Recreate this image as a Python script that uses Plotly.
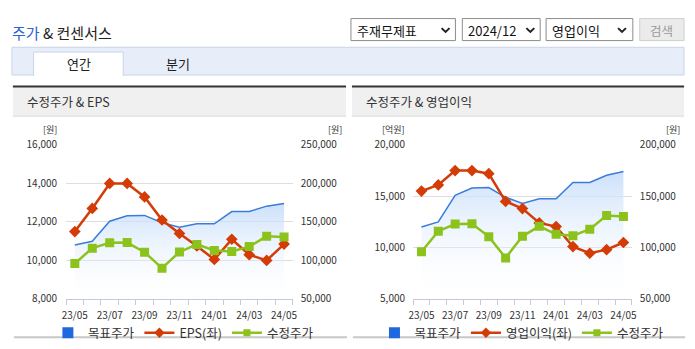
import plotly.graph_objects as go

# ---------------- data ----------------
months = ["23/05", "23/06", "23/07", "23/08", "23/09", "23/10", "23/11",
          "23/12", "24/01", "24/02", "24/03", "24/04", "24/05"]
tick_labels = ["23/05", "23/07", "23/09", "23/11", "24/01", "24/03", "24/05"]
target_price = [120000, 125000, 151000, 158000, 158500, 149000, 143000,
                147500, 147500, 163500, 163500, 170500, 174000]
adj_price = [96000, 116000, 123000, 123200, 110700, 90000, 111000,
             120800, 113000, 111600, 118000, 131300, 130300]
eps = [11500, 12700, 14000, 14000, 13300, 12100, 11400,
       10750, 10050, 11100, 10300, 10000, 10850]
op_profit = [15500, 16100, 17500, 17500, 17200, 14500, 13800,
             12400, 12050, 10100, 9450, 9800, 10500]

W, H = 695, 349
FONT = "Noto Sans CJK KR"
BLUE_LINE = "#3b7bdc"
BLUE_SQ = "#1f69df"
RED = "#d33c06"
GREEN = "#8cc21c"

idx = list(range(len(months)))
tickvals = [months.index(t) for t in tick_labels]


def px(x):
    return x / W


def py(y):
    return 1 - y / H


fig = go.Figure()

fill_grad = dict(type="vertical",
                 colorscale=[[0, "rgba(255,255,255,0)"], [1, "rgba(196,220,250,0.85)"]])


def add_chart(xa, ya_main, ya_left, ya_top, left_vals, left_name, legend_id, main_lo):
    # area: target price
    fig.add_trace(go.Scatter(
        x=idx, y=target_price, xaxis=xa, yaxis=ya_main, mode="lines",
        line=dict(color=BLUE_LINE, width=1.5), fill="tozeroy",
        fillgradient=dict(fill_grad, start=main_lo, stop=max(target_price)),
        showlegend=False, hoverinfo="skip"))
    # left-axis series
    fig.add_trace(go.Scatter(
        x=idx, y=left_vals, xaxis=xa, yaxis=ya_left, mode="lines+markers",
        line=dict(color=RED, width=2.5),
        marker=dict(symbol="diamond", size=9, color=RED),
        showlegend=False))
    # adjusted price
    fig.add_trace(go.Scatter(
        x=idx, y=adj_price, xaxis=xa, yaxis=ya_top, mode="lines+markers",
        line=dict(color=GREEN, width=2.5),
        marker=dict(symbol="square", size=9, color=GREEN),
        showlegend=False))
    # legend entries (small symbols as in the reference legend)
    fig.add_trace(go.Scatter(
        x=[None], y=[None], xaxis=xa, yaxis=ya_main, mode="markers",
        marker=dict(symbol="square", size=11, color=BLUE_SQ),
        name="목표주가", legend=legend_id, legendrank=1))
    fig.add_trace(go.Scatter(
        x=[None], y=[None], xaxis=xa, yaxis=ya_left, mode="lines+markers",
        line=dict(color=RED, width=2.5),
        marker=dict(symbol="diamond", size=8, color=RED),
        name=left_name, legend=legend_id, legendrank=2))
    fig.add_trace(go.Scatter(
        x=[None], y=[None], xaxis=xa, yaxis=ya_top, mode="lines+markers",
        line=dict(color=GREEN, width=2.5),
        marker=dict(symbol="square", size=7, color=GREEN),
        name="수정주가", legend=legend_id, legendrank=3))


add_chart("x", "y", "y2", "y3", eps, "EPS(좌)", "legend", 50000)
add_chart("x2", "y4", "y5", "y6", op_profit, "영업이익(좌)", "legend2", 50000)

tickfont = dict(family=FONT, size=10, color="#333")

xcommon = dict(range=[-0.5, len(months) - 0.5], tickmode="array", tickvals=tickvals,
               ticktext=tick_labels, ticks="", showgrid=False, zeroline=False,
               showline=True, linecolor="#c3cbd8", linewidth=1, tickfont=tickfont,
               ticklabelstandoff=7, fixedrange=True,
               minor=dict(ticks="outside", tick0=-0.5, dtick=1, ticklen=5,
                          tickcolor="#c3cbd8", showgrid=False))

L_DOM = [px(62), px(292)]
R_DOM = [px(414), px(636)]
Y_DOM = [py(303), py(142)]

legend_common = dict(orientation="h", yanchor="top", y=py(323),
                     xanchor="center", font=dict(family=FONT, size=12.5, color="#333"),
                     bgcolor="rgba(0,0,0,0)", itemwidth=30, traceorder="normal")

fig.update_layout(
    width=W, height=H, margin=dict(l=0, r=0, t=0, b=0),
    paper_bgcolor="white", plot_bgcolor="rgba(0,0,0,0)",
    font=dict(family=FONT, color="#333"),
    xaxis=dict(xcommon, domain=L_DOM, anchor="y"),
    xaxis2=dict(xcommon, domain=R_DOM, anchor="y4"),
    yaxis=dict(domain=Y_DOM, anchor="x", side="right", range=[50000, 250000],
               tickmode="linear", tick0=50000, dtick=50000, tickformat=",",
               showgrid=True, gridcolor="#dedede", zeroline=False, ticks="",
               tickfont=tickfont, ticklabelstandoff=7, fixedrange=True),
    yaxis2=dict(overlaying="y", anchor="x", side="left", range=[8000, 16000],
                tickmode="linear", tick0=8000, dtick=2000, tickformat=",",
                showgrid=False, zeroline=False, ticks="", tickfont=tickfont,
                ticklabelstandoff=8, fixedrange=True),
    yaxis3=dict(overlaying="y", anchor="x", range=[50000, 250000], visible=False,
                fixedrange=True),
    yaxis4=dict(domain=Y_DOM, anchor="x2", side="right", range=[50000, 200000],
                tickmode="linear", tick0=50000, dtick=50000, tickformat=",",
                showgrid=True, gridcolor="#dedede", zeroline=False, ticks="",
                tickfont=tickfont, ticklabelstandoff=7, fixedrange=True),
    yaxis5=dict(overlaying="y4", anchor="x2", side="left", range=[5000, 20000],
                tickmode="linear", tick0=5000, dtick=5000, tickformat=",",
                showgrid=False, zeroline=False, ticks="", tickfont=tickfont,
                ticklabelstandoff=7, fixedrange=True),
    yaxis6=dict(overlaying="y4", anchor="x2", range=[50000, 200000], visible=False,
                fixedrange=True),
    legend=dict(legend_common, x=px(181)),
    legend2=dict(legend_common, x=px(524)),
    hovermode=False,
)

shapes = []
annots = []


def rect(x0, y0, x1, y1, fill, line=None, lw=1):
    shapes.append(dict(type="rect", xref="paper", yref="paper", layer="below",
                       x0=px(x0), x1=px(x1), y0=py(y1), y1=py(y0),
                       fillcolor=fill, line=dict(color=line or fill, width=lw if line else 0)))


def text(x, y, s, size=12, color="#222", anchor="left", pad=1):
    annots.append(dict(xref="paper", yref="paper", x=px(x), y=py(y), text=s,
                       showarrow=False, xanchor=anchor, yanchor="middle", borderpad=pad,
                       font=dict(family=FONT, size=size, color=color)))


# title
text(5, 25, "<span style='color:#2c62d2'>주가</span> & 컨센서스", size=15, color="#222")

# dropdowns
for (x0, x1, label, chev) in [(351, 457, "주재무제표", 447), (464, 543, "2024/12", 533),
                             (549, 637, "영업이익", 626)]:
    rect(x0, 10, x1, 33, "white", "#8c8c8c", 1)
    text(x0 + 4, 22, label, size=13, color="#111")
    shapes.append(dict(type="path", xref="paper", yref="paper",
                       path=f"M {px(chev-4)},{py(20)} L {px(chev)},{py(24)} L {px(chev+4)},{py(20)}",
                       line=dict(color="#222", width=2)))
# search button
rect(644, 10, 689, 33, "#ebebeb", "#cfcfcf", 1)
text(666.5, 22, "검색", size=12.5, color="#9a9a9a", anchor="center")

# tab bar
rect(7, 40, 689, 69, "#e7eef9", "#c9d5e8", 1)
rect(29, 45, 120, 69.5, "white", "#c9d5e8", 1)
shapes.append(dict(type="line", xref="paper", yref="paper", x0=px(29.5), x1=px(119.5),
                   y0=py(69.3), y1=py(69.3), line=dict(color="white", width=1.5)))
text(75, 57, "연간", size=13, color="#222", anchor="center")
text(176, 57, "분기", size=13, color="#222", anchor="center")

# panels
for (x0, x1, title) in [(8, 346, "수정주가 & EPS"), (352, 689, "수정주가 & 영업이익")]:
    rect(x0, 82, x1, 112, "#f0f0f0")
    shapes.append(dict(type="line", xref="paper", yref="paper", x0=px(x0), x1=px(x1),
                       y0=py(112), y1=py(112), line=dict(color="#dadada", width=1)))
    rect(x0, 80, x1, 82, "#333333")
    rect(x0 + 1, 342, x1 + 1, 344, "#c8c8c8")
    text(x0 + 12, 97, title, size=12.5, color="#333")

# axis unit labels
text(46, 126, "[원]", size=9, color="#333", anchor="center", pad=0)
text(335, 126, "[원]", size=9, color="#333", anchor="center", pad=0)
text(394, 126, "[억원]", size=9, color="#333", anchor="center", pad=0)
text(678, 126, "[원]", size=9, color="#333", anchor="center", pad=0)

fig.update_layout(shapes=shapes, annotations=annots)

fig.write_html("out.html")
